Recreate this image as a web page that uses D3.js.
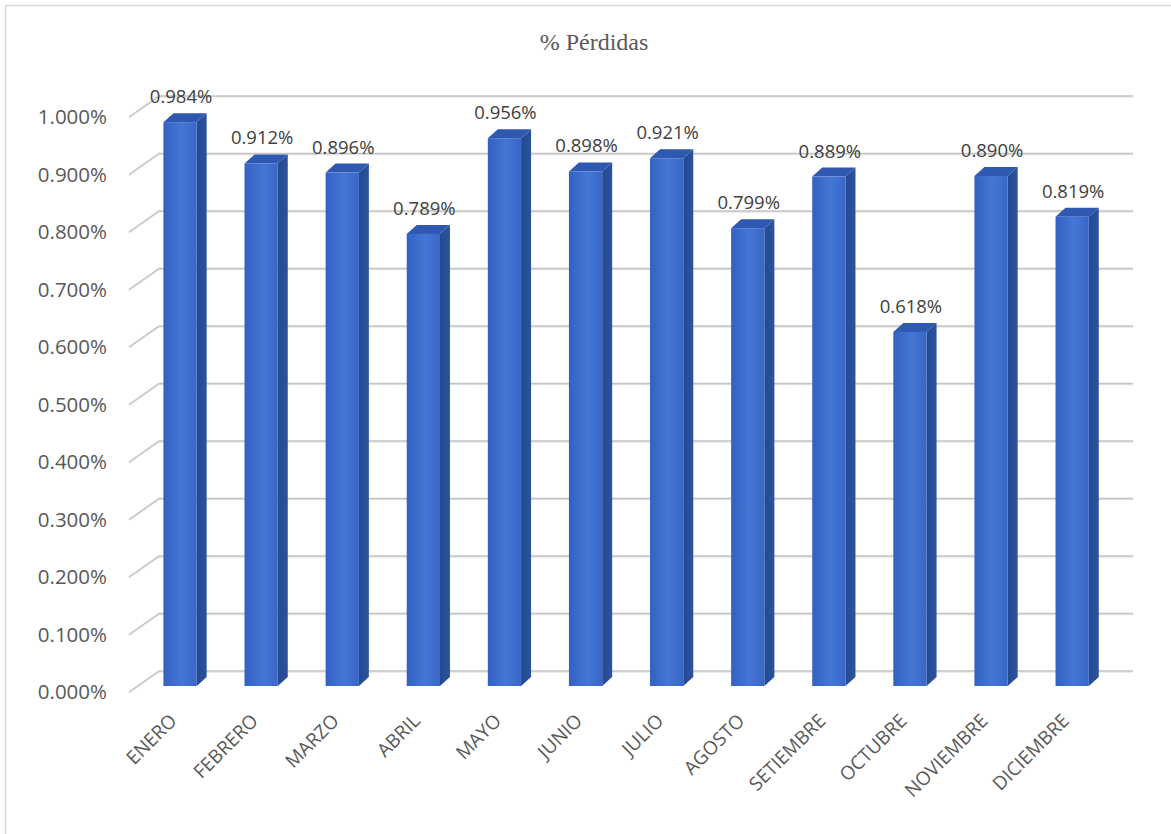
<!DOCTYPE html>
<html>
<head>
<meta charset="utf-8">
<script src="https://cdn.jsdelivr.net/npm/d3@7"></script>
<style>
  html, body { margin: 0; padding: 0; background: #ffffff; }
  svg { display: block; }
</style>
</head>
<body>
<svg id="chart" width="1171" height="834"></svg>
<script>
// ---- data ----
const title = "% Pérdidas";
const months = ["ENERO","FEBRERO","MARZO","ABRIL","MAYO","JUNIO","JULIO","AGOSTO","SETIEMBRE","OCTUBRE","NOVIEMBRE","DICIEMBRE"];
const losses = [0.984, 0.912, 0.896, 0.789, 0.956, 0.898, 0.921, 0.799, 0.889, 0.618, 0.890, 0.819];
const yTicks = [0, 0.1, 0.2, 0.3, 0.4, 0.5, 0.6, 0.7, 0.8, 0.9, 1.0];

// ---- layout ----
const svg = d3.select("#chart");
const fmt = v => d3.format(".3f")(v) + "%";

// back wall, front plane and bar scales
const yBack = d3.scaleLinear().domain([0, 1]).range([671, 96]);
const yBar = d3.scaleLinear().domain([0, 1]).range([686, 113]);
const x = d3.scaleBand().domain(months).range([139.5, 1112.7]).paddingInner(0.59).paddingOuter(0.295);
const wallX0 = 159, wallX1 = 1133;
const sideDx = -30, sideDy = 21;   // back-wall to front-plane offset
const depthDx = 10, depthDy = -9;  // bar depth

// chart border (top/left visible)
svg.append("rect").attr("x", 5.5).attr("y", 5.5).attr("width", 1200).attr("height", 900)
  .attr("fill", "none").attr("stroke", "#d9d9d9").attr("stroke-width", 1.5);

// title
svg.append("text").attr("x", 594).attr("y", 50).attr("text-anchor", "middle")
  .attr("font-family", "'Liberation Serif', 'Times New Roman', serif").attr("font-size", 24)
  .attr("fill", "#595959").text(title);

// gridlines
const grid = svg.append("g");
yTicks.forEach(t => {
  const yy = yBack(t);
  grid.append("path")
    .attr("d", `M${wallX0 + sideDx},${yy + sideDy + 1}L${wallX0},${yy + 1}L${wallX1},${yy + 1}`)
    .attr("fill", "none").attr("stroke", "#e6e6e6").attr("stroke-width", 1.5);
  grid.append("path")
    .attr("d", `M${wallX0 + sideDx},${yy + sideDy}L${wallX0},${yy}L${wallX1},${yy}`)
    .attr("fill", "none").attr("stroke", "#c4c4c4").attr("stroke-width", 1.5);
});

// y tick labels
svg.append("g").selectAll("text").data(yTicks).join("text")
  .attr("x", 107).attr("y", d => yBack(d) + sideDy).attr("dy", "0.35em")
  .attr("text-anchor", "end")
  .attr("font-family", "'Open Sans', sans-serif").attr("font-size", 20.5)
  .attr("fill", "#595959").text(fmt);

// gradients
const defs = svg.append("defs");
const gFront = defs.append("linearGradient").attr("id", "gFront").attr("x1", 0).attr("x2", 1).attr("y1", 0).attr("y2", 0);
gFront.append("stop").attr("offset", "0%").attr("stop-color", "#3261c2");
gFront.append("stop").attr("offset", "55%").attr("stop-color", "#4576d6");
gFront.append("stop").attr("offset", "100%").attr("stop-color", "#3766c6");
const gSide = defs.append("linearGradient").attr("id", "gSide").attr("x1", 0).attr("x2", 1).attr("y1", 0).attr("y2", 0);
gSide.append("stop").attr("offset", "0%").attr("stop-color", "#24498f");
gSide.append("stop").attr("offset", "100%").attr("stop-color", "#2c539e");

// bars
const rows = months.map((m, i) => ({m, v: losses[i]}));
const bars = svg.append("g").selectAll("g").data(rows).join("g");
const bw = x.bandwidth();
bars.append("path") // side face
  .attr("d", d => {
    const x1 = x(d.m) + bw, y0 = yBar(0), yt = yBar(d.v);
    return `M${x1},${y0}L${x1},${yt}L${x1 + depthDx},${yt + depthDy}L${x1 + depthDx},${y0 + depthDy}Z`;
  })
  .attr("fill", "url(#gSide)");
bars.append("path") // top face
  .attr("d", d => {
    const x0 = x(d.m), x1 = x0 + bw, yt = yBar(d.v);
    return `M${x0},${yt}L${x0 + depthDx},${yt + depthDy}L${x1 + depthDx},${yt + depthDy}L${x1},${yt}Z`;
  })
  .attr("fill", "#2f58b0");
bars.append("rect") // front face
  .attr("x", d => x(d.m)).attr("y", d => yBar(d.v))
  .attr("width", bw).attr("height", d => yBar(0) - yBar(d.v))
  .attr("fill", "url(#gFront)");

// data labels
svg.append("g").selectAll("text").data(rows).join("text")
  .attr("x", d => x(d.m) + bw / 2 + 1).attr("y", d => yBar(d.v) - 19)
  .attr("text-anchor", "middle")
  .attr("font-family", "'Open Sans', sans-serif").attr("font-size", 18.5)
  .attr("fill", "#404040").text(d => fmt(d.v));

// x labels
svg.append("g").selectAll("text").data(months).join("text")
  .attr("transform", d => `translate(${x(d) + bw / 2 - 2},722) rotate(-45)`)
  .attr("text-anchor", "end")
  .attr("font-family", "'Open Sans', sans-serif").attr("font-size", 19)
  .attr("fill", "#595959").text(d => d);
</script>
</body>
</html>
